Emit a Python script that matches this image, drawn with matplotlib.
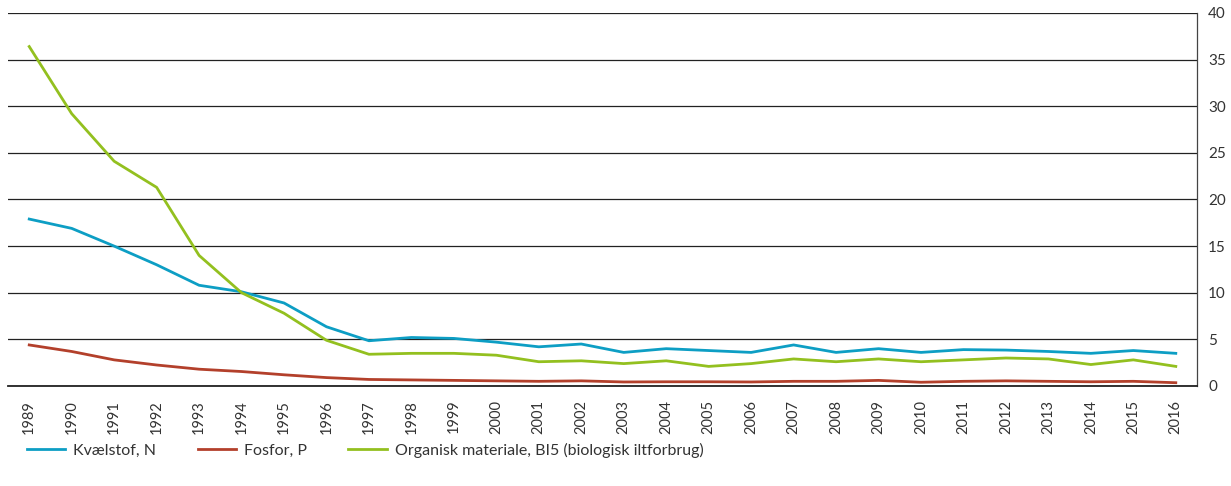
import matplotlib.pyplot as plt

# Udledninger 1989-2016
years = list(range(1989, 2017))
kvaelstof = [17.9, 16.9, 15.0, 13.0, 10.8, 10.1, 8.9, 6.35, 4.85, 5.2, 5.1, 4.7, 4.2, 4.5,
             3.6, 4.0, 3.8, 3.6, 4.4, 3.6, 4.0, 3.6, 3.9, 3.85, 3.7, 3.5, 3.8, 3.5]
fosfor = [4.4, 3.7, 2.8, 2.25, 1.8, 1.55, 1.2, 0.9, 0.7, 0.65, 0.6, 0.55, 0.5, 0.55,
          0.43, 0.45, 0.45, 0.43, 0.5, 0.5, 0.6, 0.4, 0.5, 0.55, 0.5, 0.45, 0.5, 0.35]
organisk = [36.4, 29.2, 24.1, 21.3, 14.0, 10.0, 7.8, 4.9, 3.4, 3.5, 3.5, 3.3, 2.6, 2.7,
            2.4, 2.7, 2.1, 2.4, 2.9, 2.6, 2.9, 2.6, 2.8, 3.0, 2.9, 2.3, 2.8, 2.1]
yticks = [0, 5, 10, 15, 20, 25, 30, 35, 40]

plt.rcParams['font.family'] = ['Lato', 'DejaVu Sans']

fig = plt.figure(figsize=(12.31, 4.86), dpi=100)
ax = fig.add_axes([0.0065, 0.2058, 0.9659, 0.7675])

x = list(range(len(years)))
ax.plot(x, kvaelstof, color="#0d9ec4", lw=2.0, label="Kvælstof, N")
ax.plot(x, fosfor, color="#b3402b", lw=2.0, label="Fosfor, P")
ax.plot(x, organisk, color="#93c01f", lw=2.0, label="Organisk materiale, BI5 (biologisk iltforbrug)")

ax.set_xlim(-0.5, len(years) - 0.5)
ax.set_ylim(0, 40)
ax.set_yticks(yticks)
ax.yaxis.tick_right()
ax.tick_params(axis="y", length=0, pad=8, labelsize=11, labelcolor="#333333")
ax.set_xticks(x)
ax.set_xticklabels([str(y) for y in years], rotation=90, va="top")
ax.tick_params(axis="x", length=0, pad=10, labelsize=10.5, labelcolor="#333333")

ax.grid(axis="y", color="#222222", lw=0.9)
ax.set_axisbelow(True)
for s in ["left", "top"]:
    ax.spines[s].set_visible(False)
ax.spines["right"].set_color("#444444")
ax.spines["right"].set_linewidth(0.9)
ax.spines["bottom"].set_color("#222222")
ax.spines["bottom"].set_linewidth(1.3)

fig.legend(loc="lower left", bbox_to_anchor=(0.010, 0.029), ncol=3, frameon=False,
           fontsize=11.5, handlelength=2.4, columnspacing=2.6, handletextpad=0.5,
           labelcolor="#333333")

fig.savefig("out.png", dpi=100)
